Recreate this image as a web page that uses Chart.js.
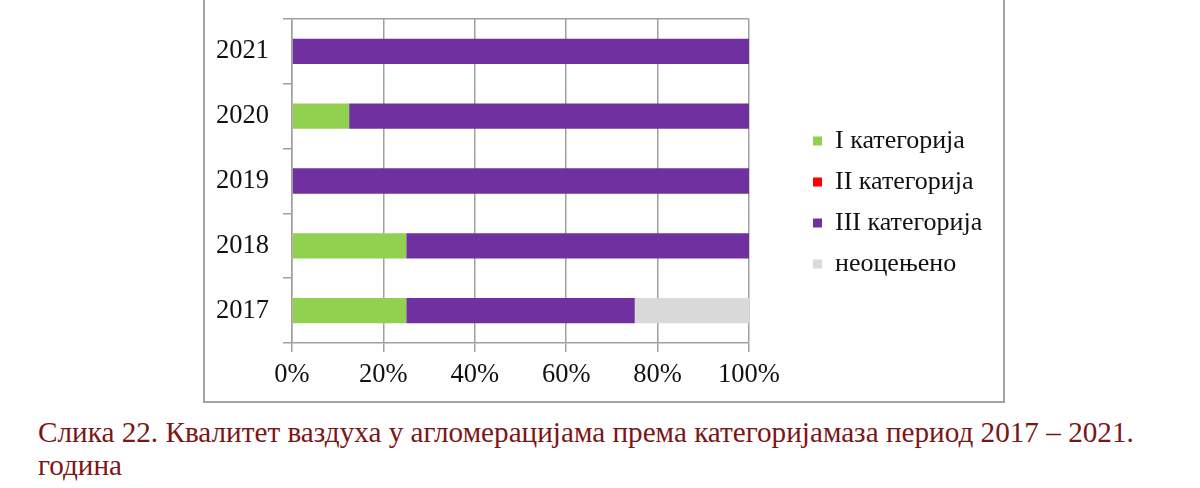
<!DOCTYPE html>
<html>
<head>
<meta charset="utf-8">
<script src="https://cdn.jsdelivr.net/npm/chart.js@4"></script>
<style>
  html, body { margin: 0; padding: 0; background: #fff; }
  body { width: 1200px; height: 488px; position: relative; overflow: hidden; font-family: "Liberation Serif", serif; }
  .frame { position: absolute; left: 203px; top: -10px; width: 798px; height: 409px; border: 2px solid #a3a3a3; }
  .chart-box { position: absolute; left: 203px; top: 0; width: 800px; height: 400px; }
  .caption { position: absolute; left: 38px; top: 416px; color: #7d1517; font-size: 29.2px; line-height: 33px; white-space: nowrap; }
</style>
</head>
<body>
<div class="frame"></div>
<div class="chart-box"><canvas id="airChart"></canvas></div>
<div class="caption">Слика 22. Квалитет ваздуха у агломерацијама према категоријамаза период 2017 – 2021.<br>година</div>
<script>
// Categories top to bottom, values in percent
const years = ['2021', '2020', '2019', '2018', '2017'];
const cat1 = [0, 12.5, 0, 25, 25];
const cat2 = [0, 0, 0, 0, 0];
const cat3 = [100, 87.5, 100, 75, 50];
const notRated = [0, 0, 0, 0, 25];
const pctTicks = [0, 20, 40, 60, 80, 100];

const gridGray = '#a0a0a0';
const serif = 'Liberation Serif';
const legendGap = 49;

// push the legend away from the plot, like the Excel original
const legendShift = {
  id: 'legendShift',
  afterLayout(chart) {
    const lg = chart.legend;
    lg.left += legendGap;
    lg.right = chart.width;
  }
};

new Chart(document.getElementById('airChart'), {
  type: 'bar',
  data: {
    labels: years,
    datasets: [
      { label: 'I категорија',   data: cat1,     backgroundColor: '#92d050' },
      { label: 'II категорија',  data: cat2,     backgroundColor: '#ff0000' },
      { label: 'III категорија', data: cat3,     backgroundColor: '#7030a0' },
      { label: 'неоцењено',      data: notRated, backgroundColor: '#d9d9d9' }
    ]
  },
  plugins: [legendShift],
  options: {
    indexAxis: 'y',
    responsive: true, maintainAspectRatio: false,
    animation: false,
    datasets: { bar: { barPercentage: 0.39, categoryPercentage: 1, borderWidth: 0 } },
    layout: { padding: { top: 19, left: 0, right: 72, bottom: 14 } },
    plugins: {
      tooltip: { enabled: false },
      legend: {
        position: 'right',
        labels: {
          color: '#111', font: { family: serif, size: 26 },
          boxWidth: 9, boxHeight: 9, padding: 15
        }
      }
    },
    scales: {
      x: {
        stacked: true, min: 0, max: 100,
        afterBuildTicks: axis => { axis.ticks = pctTicks.map(v => ({ value: v })); },
        afterFit: axis => { axis.height = 43; axis.paddingLeft = 0; axis.paddingRight = 0; },
        ticks: { color: '#111', padding: 7, font: { family: serif, size: 26.5 }, callback: v => v + '%' },
        grid: { color: gridGray, lineWidth: 1.5, tickLength: 9 },
        border: { color: gridGray, width: 1.5 }
      },
      y: {
        stacked: true,
        afterFit: axis => { axis.width = 89; axis.paddingTop = 0; axis.paddingBottom = 0; },
        ticks: { color: '#111', padding: 14, font: { family: serif, size: 26.5 } },
        grid: {
          offset: true, lineWidth: 1.5, tickLength: 9,
          color: ctx => ctx.index === 0 ? gridGray : 'rgba(0,0,0,0)',
          tickColor: gridGray
        },
        border: { color: gridGray, width: 1.5 }
      }
    }
  }
});
</script>
</body>
</html>
